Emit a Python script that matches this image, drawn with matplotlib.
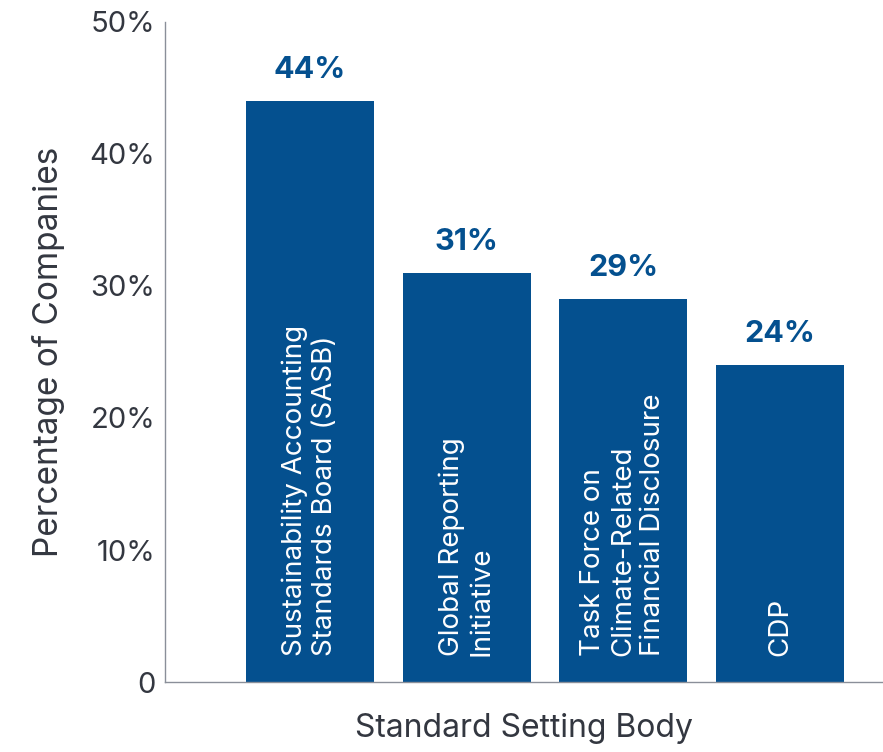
import matplotlib.pyplot as plt

categories = ['Sustainability Accounting\nStandards Board (SASB)',
              'Global Reporting\nInitiative',
              'Task Force on\nClimate-Related\nFinancial Disclosure',
              'CDP']
values = [44, 31, 29, 24]
value_labels = ['44%', '31%', '29%', '24%']
yticks = [0, 10, 20, 30, 40, 50]
ytick_labels = ['0', '10%', '20%', '30%', '40%', '50%']

bar_color = '#04508f'
text_color = '#333740'

plt.rcParams['font.family'] = ['Inter', 'DejaVu Sans']

fig = plt.figure(figsize=(8.83, 7.52), dpi=100)
ax = fig.add_axes([0.187, 0.093, 0.813, 0.878])

x = list(range(len(values)))
ax.bar(x, values, width=0.817, color=bar_color)

for xi, v, lab, cat in zip(x, values, value_labels, categories):
    ax.text(xi, v + 1.3, lab, ha='center', va='bottom', fontsize=22,
            fontweight='bold', color=bar_color)
    ax.text(xi, 2.0, cat, rotation=90, ha='center', va='bottom',
            multialignment='left', fontsize=20, color='white', linespacing=1.2)

ax.set_xlim(-0.925, 3.657)
ax.set_ylim(0, 50)
ax.set_yticks(yticks)
ax.set_yticklabels(ytick_labels)
ax.set_xticks([])
ax.tick_params(axis='y', length=0, labelsize=21, labelcolor=text_color, pad=7)

for s in ['top', 'right']:
    ax.spines[s].set_visible(False)
for s in ['left', 'bottom']:
    ax.spines[s].set_color('#8a8f99')
    ax.spines[s].set_linewidth(1)

ax.set_ylabel('Percentage of Companies', fontsize=24, color=text_color, labelpad=18)
ax.set_xlabel('Standard Setting Body', fontsize=23, color=text_color, labelpad=22)

fig.savefig('out.png', dpi=100)
